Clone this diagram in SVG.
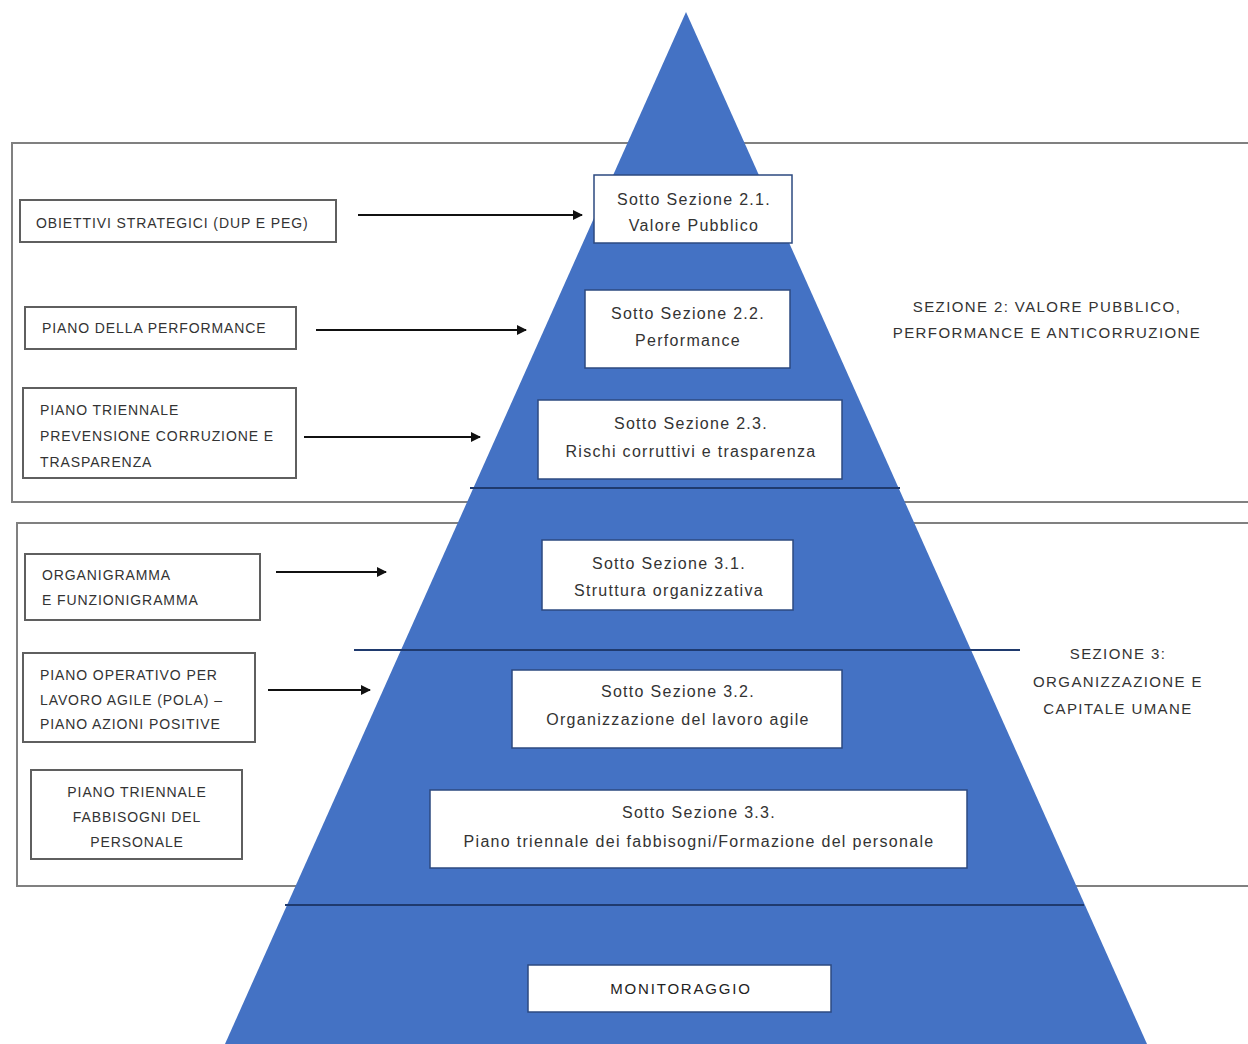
<svg xmlns="http://www.w3.org/2000/svg" width="1248" height="1044" viewBox="0 0 1248 1044">
<defs>
<marker id="ah" viewBox="0 0 10 10" refX="9" refY="5" markerWidth="5" markerHeight="5" orient="auto" markerUnits="strokeWidth"><path d="M0,0 L10,5 L0,10 z" fill="#111"/></marker>
<style>
.sec{fill:#fff;stroke:#808080;stroke-width:2}
.lbox{fill:#fff;stroke:#5f5f5f;stroke-width:2}
.pbox{fill:#fff;stroke:#2c4a80;stroke-width:1.5}
.div{stroke:#1f3a6e;stroke-width:2}
.arr{stroke:#111;stroke-width:2;fill:none;marker-end:url(#ah)}
.lt{font-family:"Liberation Sans",Arial,sans-serif;font-size:14px;letter-spacing:0.9px;fill:#333}
.pt{font-family:"Liberation Sans",Arial,sans-serif;font-size:16px;letter-spacing:1.3px;fill:#333;text-anchor:middle}
.rt{font-family:"Liberation Sans",Arial,sans-serif;font-size:15px;letter-spacing:1.4px;fill:#333;text-anchor:middle}
</style>
</defs>
<rect width="1248" height="1044" fill="#fff"/>
<g id="sezione2-frame"><rect class="sec" x="12" y="143" width="1250" height="359"/></g>
<g id="sezione3-frame"><rect class="sec" x="17" y="523" width="1245" height="363"/></g>
<g id="pyramid">
<polygon points="686,12 1147,1044 225,1044" fill="#4472C4"/>
<line class="div" x1="470" y1="488" x2="900" y2="488"/>
<line class="div" x1="354" y1="650" x2="1020" y2="650"/>
<line class="div" x1="285" y1="905" x2="1084" y2="905"/>
</g>
<g id="ss21"><rect class="pbox" x="594" y="175" width="198" height="68"/><text class="pt" x="694" y="205">Sotto Sezione 2.1.</text><text class="pt" x="694" y="231">Valore Pubblico</text></g>
<g id="ss22"><rect class="pbox" x="585" y="290" width="205" height="78"/><text class="pt" x="688" y="319">Sotto Sezione 2.2.</text><text class="pt" x="688" y="346">Performance</text></g>
<g id="ss23"><rect class="pbox" x="538" y="400" width="304" height="79"/><text class="pt" x="691" y="429">Sotto Sezione 2.3.</text><text class="pt" x="691" y="457">Rischi corruttivi e trasparenza</text></g>
<g id="ss31"><rect class="pbox" x="542" y="540" width="251" height="70"/><text class="pt" x="669" y="569">Sotto Sezione 3.1.</text><text class="pt" x="669" y="596">Struttura organizzativa</text></g>
<g id="ss32"><rect class="pbox" x="512" y="670" width="330" height="78"/><text class="pt" x="678" y="697">Sotto Sezione 3.2.</text><text class="pt" x="678" y="725">Organizzazione del lavoro agile</text></g>
<g id="ss33"><rect class="pbox" x="430" y="790" width="537" height="78"/><text class="pt" x="699" y="818">Sotto Sezione 3.3.</text><text class="pt" x="699" y="847">Piano triennale dei fabbisogni/Formazione del personale</text></g>
<g id="monitoraggio"><rect class="pbox" x="528" y="965" width="303" height="47"/><text class="pt" x="681" y="994" style="font-size:15px;letter-spacing:1.8px;fill:#222">MONITORAGGIO</text></g>
<g id="obiettivi"><rect class="lbox" x="20" y="200" width="316" height="42"/><text class="lt" x="36" y="228">OBIETTIVI STRATEGICI (DUP E PEG)</text></g>
<g id="performance"><rect class="lbox" x="25" y="307" width="271" height="42"/><text class="lt" x="42" y="333">PIANO DELLA PERFORMANCE</text></g>
<g id="anticorruzione"><rect class="lbox" x="23" y="388" width="273" height="90"/><text class="lt" x="40" y="415">PIANO TRIENNALE</text><text class="lt" x="40" y="441">PREVENSIONE CORRUZIONE E</text><text class="lt" x="40" y="467">TRASPARENZA</text></g>
<g id="organigramma"><rect class="lbox" x="25" y="554" width="235" height="66"/><text class="lt" x="42" y="580">ORGANIGRAMMA</text><text class="lt" x="42" y="605">E FUNZIONIGRAMMA</text></g>
<g id="pola"><rect class="lbox" x="23" y="653" width="232" height="89"/><text class="lt" x="40" y="680">PIANO OPERATIVO PER</text><text class="lt" x="40" y="705">LAVORO AGILE (POLA) –</text><text class="lt" x="40" y="729">PIANO AZIONI POSITIVE</text></g>
<g id="fabbisogni"><rect class="lbox" x="31" y="770" width="211" height="89"/><text class="lt" x="137" y="797" text-anchor="middle">PIANO TRIENNALE</text><text class="lt" x="137" y="822" text-anchor="middle">FABBISOGNI DEL</text><text class="lt" x="137" y="847" text-anchor="middle">PERSONALE</text></g>
<g id="label-sezione2"><text class="rt" x="1047" y="312">SEZIONE 2: VALORE PUBBLICO,</text><text class="rt" x="1047" y="338">PERFORMANCE E ANTICORRUZIONE</text></g>
<g id="label-sezione3"><text class="rt" x="1118" y="659">SEZIONE 3:</text><text class="rt" x="1118" y="687">ORGANIZZAZIONE E</text><text class="rt" x="1118" y="714">CAPITALE UMANE</text></g>
<g id="connectors">
<line class="arr" x1="358" y1="215" x2="582" y2="215"/>
<line class="arr" x1="316" y1="330" x2="526" y2="330"/>
<line class="arr" x1="304" y1="437" x2="480" y2="437"/>
<line class="arr" x1="276" y1="572" x2="386" y2="572"/>
<line class="arr" x1="268" y1="690" x2="370" y2="690"/>
</g>
</svg>
